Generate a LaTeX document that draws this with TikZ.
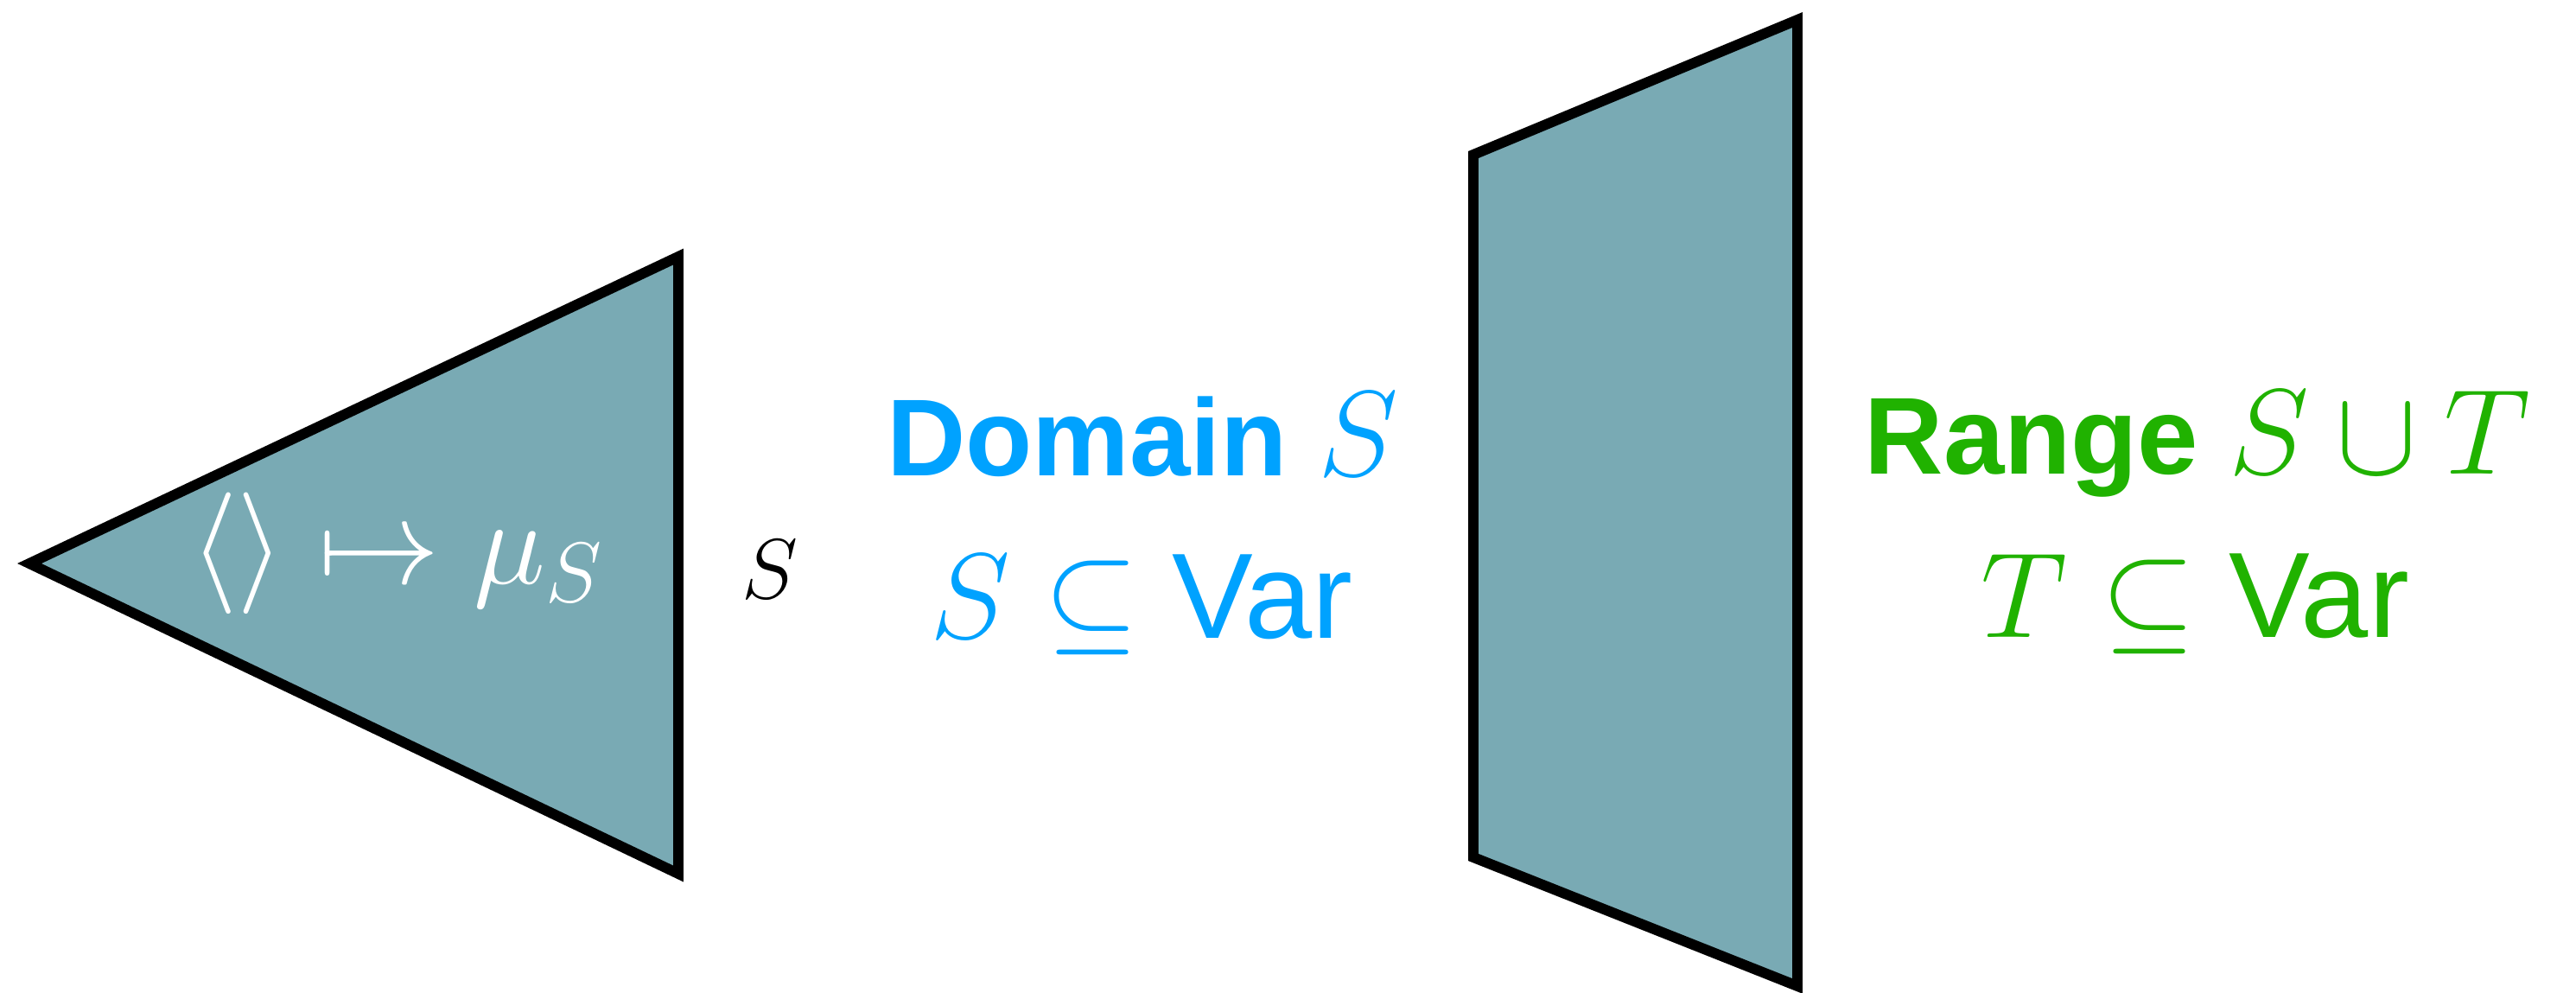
\documentclass[tikz,border=0pt]{standalone}
\usepackage{fix-cm}
\usepackage{fontspec}
\setmainfont{Liberation Sans}

\definecolor{slab}{RGB}{121,170,180}
\definecolor{domblue}{RGB}{0,162,255}
\definecolor{rangegreen}{RGB}{32,178,0}

\newcommand{\mathbig}[1]{{\fontsize{40}{48}\selectfont$#1$}}

\tikzset{
  slabshape/.style={draw=black,fill=slab,line width=3.4pt},
  bigtext/.style={font=\fontsize{40}{48}\selectfont},
  headtext/.style={font=\fontsize{36}{43}\selectfont\bfseries}
}

\begin{document}
\begin{tikzpicture}
\useasboundingbox (0,0) rectangle (29.81,11.48);
% the two shapes
\draw[slabshape] (0.34,4.96) -- (7.85,8.51) -- (7.85,1.37) -- cycle;
\draw[slabshape] (17.05,9.69) -- (20.80,11.25) -- (20.80,0.07) -- (17.05,1.56) -- cycle;
\begin{scope}[every node/.style={anchor=base}]
    \node[bigtext,text=white] (map) at (4.59,4.73) {$\langle\rangle \mapsto \mu_S$};
    \node[font=\fontsize{28}{34}\selectfont] (s) at (8.91,4.56) {$S$};
\end{scope}
\begin{scope}[every node/.style={anchor=base,text=domblue}]
    \node[headtext] (dom) at (13.22,5.98) {Domain \mathbig{S}};
    \node[bigtext] (domsub) at (13.21,4.10) {$S \subseteq$ Var};
\end{scope}
\begin{scope}[every node/.style={anchor=base,text=rangegreen}]
    \node[headtext] (ran) at (25.43,5.99) {Range \mathbig{S \cup T}};
    \node[bigtext] (ransub) at (25.40,4.11) {$T \subseteq$ Var};
\end{scope}
\end{tikzpicture}
\end{document}
